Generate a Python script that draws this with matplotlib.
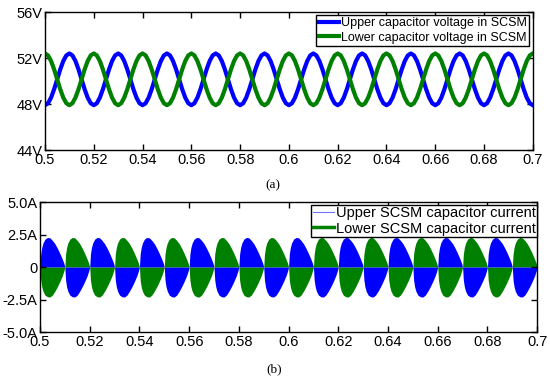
import numpy as np
import matplotlib.pyplot as plt
from matplotlib.lines import Line2D

plt.rcParams["font.family"] = ["Liberation Sans", "DejaVu Sans"]

# one 20 ms cycle of the capacitor voltages (t in ms from start of cycle)
cycle_ms = [0, 1.25, 2.5, 3.75, 5, 6.25, 7.5, 8.75, 10, 11.25, 12.5, 13.75, 15, 16.25, 17.5, 18.75, 20]
upper_v_cycle = [47.9, 48.07, 48.56, 49.29, 50.15, 51.01, 51.74, 52.23, 52.4,
                 52.23, 51.74, 51.01, 50.15, 49.29, 48.56, 48.07, 47.9]
lower_v_cycle = [52.4, 52.23, 51.74, 51.01, 50.15, 49.29, 48.56, 48.07, 47.9,
                 48.07, 48.56, 49.29, 50.15, 51.01, 51.74, 52.23, 52.4]
n_cycles = 10
t_start = 0.5

# envelope of one 10 ms current lobe (fraction of lobe, amplitude in A)
lobe_frac = [0, 0.03, 0.07, 0.12, 0.2, 0.3, 0.4, 0.5, 0.6, 0.7, 0.8, 0.9, 0.96, 1.0]
lobe_pos = [0, 1.0, 1.5, 1.85, 2.15, 2.28, 2.25, 2.05, 1.8, 1.45, 1.05, 0.6, 0.3, 0]
lobe_neg = [0, -1.0, -1.5, -1.85, -2.15, -2.28, -2.3, -2.15, -1.85, -1.5, -1.1, -0.65, -0.3, 0]
n_lobes = 20
lobe_len = 0.01

v_ticks = [44, 48, 52, 56]
v_ticklabels = ["44V", "48V", "52V", "56V"]
i_ticks = [-5, -2.5, 0, 2.5, 5]
i_ticklabels = ["-5.0A", "-2.5A", "0", "2.5A", "5.0A"]
x_ticks = [0.5, 0.52, 0.54, 0.56, 0.58, 0.6, 0.62, 0.64, 0.66, 0.68, 0.7]
x_ticklabels = ["0.5", "0.52", "0.54", "0.56", "0.58", "0.6", "0.62", "0.64", "0.66", "0.68", "0.7"]

BLUE = (0, 0, 1)
GREEN = (0, 0.5, 0)

# build full time series from the repeated cycle
t_v = [t_start]
upper_v = [upper_v_cycle[0]]
lower_v = [lower_v_cycle[0]]
for k in range(n_cycles):
    t_v += [t_start + k * 0.02 + m / 1000 for m in cycle_ms[1:]]
    upper_v += upper_v_cycle[1:]
    lower_v += lower_v_cycle[1:]

fig = plt.figure(figsize=(5.5, 3.77), dpi=100)
ax1 = fig.add_axes([0.0818, 0.602, 0.887, 0.366])
ax2 = fig.add_axes([0.0727, 0.119, 0.904, 0.345])

ax1.plot(t_v, upper_v, color=BLUE, linewidth=3, label="Upper capacitor voltage in SCSM")
ax1.plot(t_v, lower_v, color=GREEN, linewidth=3, label="Lower capacitor voltage in SCSM")
ax1.set_ylim(44, 56)
ax1.set_yticks(v_ticks)
ax1.set_yticklabels(v_ticklabels)
leg1 = ax1.legend(loc="upper right", bbox_to_anchor=(0.992, 0.98), fontsize=9, fancybox=False,
                  edgecolor="black", framealpha=1, borderpad=0.2, handlelength=1.6,
                  handletextpad=0.15, labelspacing=0.2, borderaxespad=0)
leg1.get_frame().set_linewidth(1.0)

for k in range(n_lobes):
    lt = [t_start + k * lobe_len + f * lobe_len for f in lobe_frac]
    if k % 2 == 0:
        ax2.fill_between(lt, 0, lobe_pos, color=BLUE, linewidth=0)
        ax2.fill_between(lt, 0, lobe_neg, color=GREEN, linewidth=0)
    else:
        ax2.fill_between(lt, 0, lobe_pos, color=GREEN, linewidth=0)
        ax2.fill_between(lt, 0, lobe_neg, color=BLUE, linewidth=0)
ax2.set_ylim(-5, 5)
ax2.set_yticks(i_ticks)
ax2.set_yticklabels(i_ticklabels)
handles = [Line2D([], [], color=(0.45, 0.45, 1), linewidth=0.8),
           Line2D([], [], color=GREEN, linewidth=2.5)]
leg2 = ax2.legend(handles, ["Upper SCSM capacitor current", "Lower SCSM capacitor current"],
                  loc="upper right", bbox_to_anchor=(1.0, 0.98), fontsize=10.5, fancybox=False,
                  edgecolor="black", framealpha=1, borderpad=0.1, handlelength=1.5,
                  handletextpad=0.1, labelspacing=0.1, borderaxespad=0)
leg2.get_frame().set_linewidth(1.0)

for ax in (ax1, ax2):
    ax.set_xlim(0.5, 0.7)
    ax.set_xticks(x_ticks)
    ax.set_xticklabels(x_ticklabels)
    ax.tick_params(direction="in", top=True, right=True, length=4, width=1, labelsize=10.5, pad=2)
    for s in ax.spines.values():
        s.set_linewidth(1.0)

fig.text(0.497, 1 - 185 / 377, "(a)", ha="center", va="center", fontsize=9.5,
         family=["Liberation Serif", "DejaVu Serif"])
fig.text(0.498, 1 - 369 / 377, "(b)", ha="center", va="center", fontsize=9.5,
         family=["Liberation Serif", "DejaVu Serif"])

fig.savefig("out.png", dpi=100)
